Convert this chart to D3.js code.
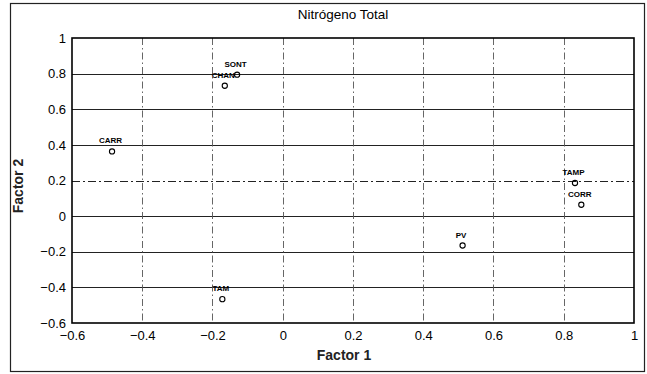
<!DOCTYPE html>
<html><head><meta charset="utf-8">
<script src="https://cdn.jsdelivr.net/npm/d3@7"></script>
<style>body{margin:0;background:#fff}svg{display:block}text{font-family:"Liberation Sans",Arial,sans-serif}</style>
</head><body><svg id="c" width="647" height="374"></svg>
<script>
const labels = ["CARR","CHAN","SONT","TAM","PV","TAMP","CORR"];
const factor1 = [-0.486,-0.165,-0.13,-0.172,0.512,0.832,0.85];
const factor2 = [0.363,0.732,0.794,-0.466,-0.165,0.186,0.064];
const xTicks = [-0.6,-0.4,-0.2,0,0.2,0.4,0.6,0.8,1];
const yTicks = [-0.6,-0.4,-0.2,0,0.2,0.4,0.6,0.8,1];
const title = "Nitrógeno Total", xTitle = "Factor 1", yTitle = "Factor 2";

const svg = d3.select("#c");
const m = {l:72, r:634, t:38, b:323};
const x = d3.scaleLinear().domain([-0.6,1]).range([m.l,m.r]);
const y = d3.scaleLinear().domain([-0.6,1]).range([m.b,m.t]);

svg.append("rect").attr("x",10.5).attr("y",3.5).attr("width",634).attr("height",368)
  .attr("fill","none").attr("stroke","#222").attr("stroke-width",1.2);

svg.append("text").attr("x",343).attr("y",19).attr("text-anchor","middle")
  .attr("font-size",13.5).text(title);

// gridlines
svg.append("g").selectAll("line").data(yTicks.slice(1,-1)).join("line")
  .attr("x1",m.l).attr("x2",m.r).attr("y1",d=>Math.round(y(d))+0.5).attr("y2",d=>Math.round(y(d))+0.5)
  .attr("stroke","#222").attr("stroke-width",1.1).attr("stroke-dasharray",(d)=>d===0.2?"8,3,2,3":null);
svg.append("g").selectAll("line").data(xTicks.slice(1,-1)).join("line")
  .attr("y1",m.t).attr("y2",m.b).attr("x1",d=>Math.round(x(d))+0.5).attr("x2",d=>Math.round(x(d))+0.5)
  .attr("stroke","#555").attr("stroke-width",0.9).attr("stroke-dasharray","7,3,1.5,3");

// axes
const xa = svg.append("g").attr("transform",`translate(0,${m.b})`)
  .call(d3.axisBottom(x).tickValues(xTicks).tickSize(0).tickPadding(8).tickFormat(d3.format("")));
const ya = svg.append("g").attr("transform",`translate(${m.l},0)`)
  .call(d3.axisLeft(y).tickValues(yTicks).tickSize(0).tickPadding(6).tickFormat(d3.format("")));
[xa,ya].forEach(a=>{a.select(".domain").remove();a.selectAll("text").attr("font-size",13).attr("fill","#000")
  .style("font-family","'Liberation Sans',Arial,sans-serif");});

svg.append("rect").attr("x",m.l).attr("y",m.t).attr("width",m.r-m.l).attr("height",m.b-m.t)
  .attr("fill","none").attr("stroke","#000").attr("stroke-width",1.6);

svg.append("text").attr("x",344).attr("y",360).attr("text-anchor","middle")
  .attr("font-size",14).attr("font-weight","bold").attr("fill","#222").text(xTitle);
svg.append("text").attr("transform","translate(23,186) rotate(-90)").attr("text-anchor","middle")
  .attr("font-size",14).attr("font-weight","bold").attr("fill","#222").text(yTitle);

const pts = labels.map((l,i)=>({l,x:factor1[i],y:factor2[i]}));
const g = svg.append("g");
g.selectAll("circle").data(pts).join("circle")
  .attr("cx",d=>x(d.x)).attr("cy",d=>y(d.y)).attr("r",2.6)
  .attr("fill","none").attr("stroke","#000").attr("stroke-width",1.1);
g.selectAll("text").data(pts).join("text")
  .attr("x",d=>x(d.x)-1.5).attr("y",d=>y(d.y)-8).attr("text-anchor","middle")
  .attr("font-size",8).attr("font-weight","bold").text(d=>d.l);
</script></body></html>
